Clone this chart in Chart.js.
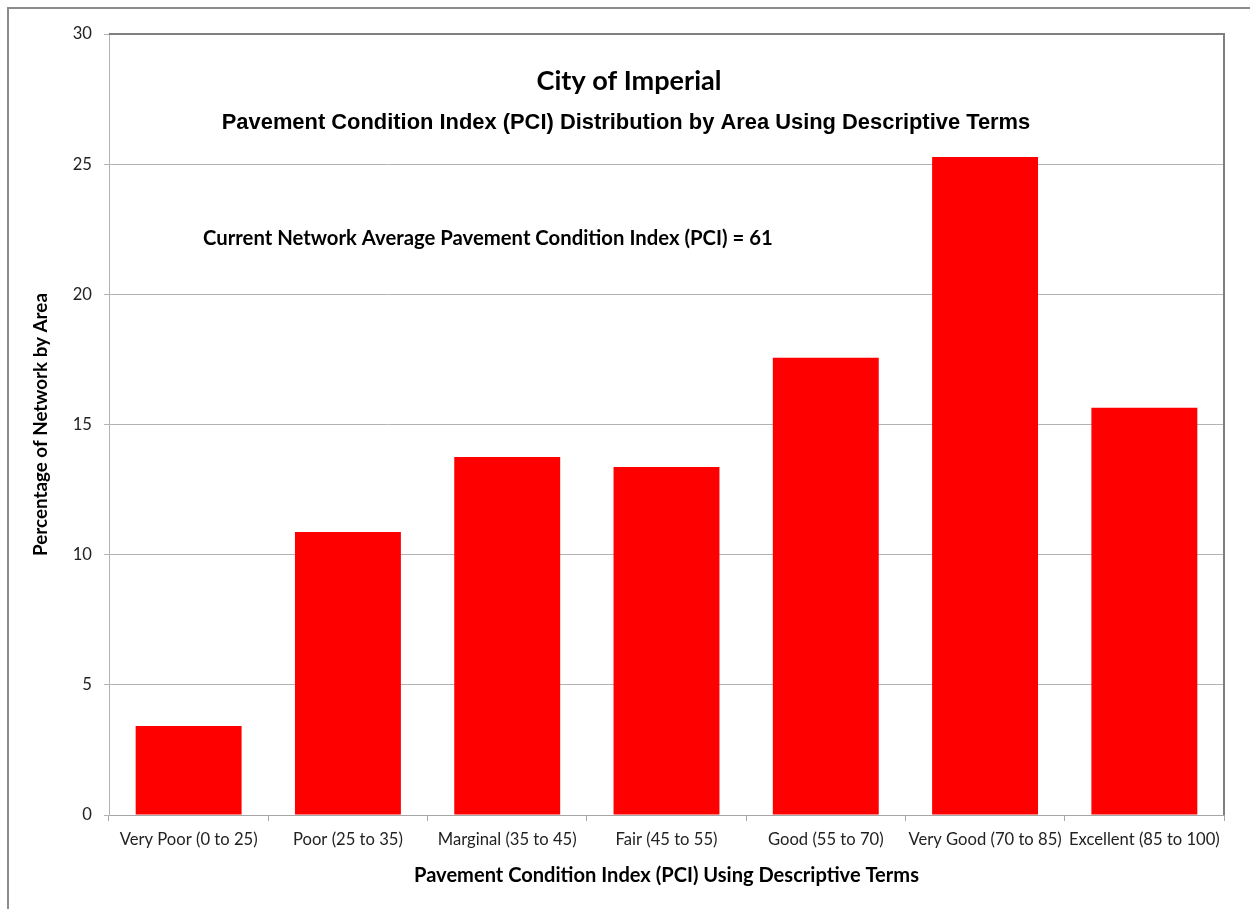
<!DOCTYPE html>
<html><head><meta charset="utf-8">
<script src="https://cdn.jsdelivr.net/npm/chart.js@4.4.1/dist/chart.umd.min.js"></script>
<style>html,body{margin:0;padding:0;background:#fff;}#wrap{position:relative;width:1250px;height:909px;}</style>
</head><body><div id="wrap"><canvas id="c" width="1250" height="909"></canvas></div>
<script>
const categories = ['Very Poor (0 to 25)','Poor (25 to 35)','Marginal (35 to 45)','Fair (45 to 55)','Good (55 to 70)','Very Good (70 to 85)','Excellent (85 to 100)'];
const values = [3.42, 10.87, 13.75, 13.37, 17.56, 25.28, 15.64];
const yTicks = [0, 5, 10, 15, 20, 25, 30];
const chartTitle = 'City of Imperial';
const chartSubtitle = 'Pavement Condition Index (PCI) Distribution by Area Using Descriptive Terms';
const noteText = 'Current Network Average Pavement Condition Index (PCI) = 61';
const xTitle = 'Pavement Condition Index (PCI) Using Descriptive Terms';
const yTitle = 'Percentage of Network by Area';

const calibri = 'Lato, "Open Sans", sans-serif';
const arial = '"Liberation Sans", Arial, sans-serif';

const mctx = document.createElement('canvas').getContext('2d');
function fitSize(text, family, weight, targetW, baseSize) {
  mctx.font = weight + ' ' + baseSize + 'px ' + family;
  return baseSize * targetW / mctx.measureText(text).width;
}
const xTickSize = fitSize(categories[0], calibri, 'normal', 138, 15);
const yTickSize = xTickSize;
const xTitleSize = fitSize(xTitle, calibri, 'bold', 505, 18);
const yTitleSize = fitSize(yTitle, calibri, 'bold', 263, 18);

const decor = {
  id: 'decor',
  afterDraw(chart) {
    const ctx = chart.ctx, a = chart.chartArea;
    ctx.save();
    ctx.strokeStyle = '#8c8c8c'; ctx.lineWidth = 2;
    ctx.beginPath(); ctx.moveTo(8, 909); ctx.lineTo(8, 8); ctx.lineTo(1250, 8); ctx.stroke();
    ctx.strokeStyle = '#7f7f7f'; ctx.lineWidth = 2;
    ctx.beginPath(); ctx.moveTo(a.left, a.top); ctx.lineTo(a.right, a.top); ctx.lineTo(a.right, a.bottom); ctx.stroke();
    ctx.fillStyle = '#000'; ctx.textBaseline = 'middle';
    ctx.textAlign = 'center';
    let s = fitSize(chartTitle, calibri, 'bold', 185, 24);
    ctx.font = 'bold ' + s + 'px ' + calibri; ctx.fillText(chartTitle, 629, 81);
    s = fitSize(chartSubtitle, arial, 'bold', 809, 18);
    ctx.font = 'bold ' + s + 'px ' + arial; ctx.fillText(chartSubtitle, 626, 123);
    ctx.textAlign = 'left';
    s = fitSize(noteText, calibri, 'bold', 570, 18);
    ctx.font = 'bold ' + s + 'px ' + calibri; ctx.fillText(noteText, 203, 238);
    ctx.restore();
  }
};

new Chart(document.getElementById('c'), {
  type: 'bar',
  data: { labels: categories, datasets: [{ data: values, backgroundColor: '#ff0000', borderWidth: 0, barPercentage: 0.665, categoryPercentage: 1.0 }] },
  options: {
    responsive: false, animation: false, maintainAspectRatio: false,
    layout: { padding: { left: 0, top: 34, right: 26, bottom: 0 } },
    plugins: { legend: { display: false }, tooltip: { enabled: false } },
    scales: {
      x: {
        grid: { display: true, drawOnChartArea: false, drawTicks: true, tickLength: 6, color: '#a6a6a6', offset: true },
        border: { display: true, color: '#a6a6a6', width: 1 },
        ticks: { color: '#222', font: { family: calibri, size: xTickSize }, padding: 9, maxRotation: 0, autoSkip: false },
        title: { display: true, text: xTitle, color: '#000', font: { family: calibri, size: xTitleSize, weight: 'bold' }, padding: { top: 21, bottom: 21 } },
        afterFit(scale) { scale.height = 94; }
      },
      y: {
        min: 0, max: 30,
        afterBuildTicks(scale) { scale.ticks = yTicks.map(v => ({ value: v })); },
        grid: { color: '#b3b3b3', tickLength: 5, lineWidth: 1 },
        border: { display: true, color: '#b3b3b3', width: 1 },
        ticks: { color: '#222', font: { family: calibri, size: yTickSize }, padding: 12 },
        title: { display: true, text: yTitle, color: '#000', font: { family: calibri, size: yTitleSize, weight: 'bold' }, padding: { top: 30, bottom: 30 } },
        afterFit(scale) { scale.width = 109; }
      }
    }
  },
  plugins: [decor]
});
</script></body></html>
